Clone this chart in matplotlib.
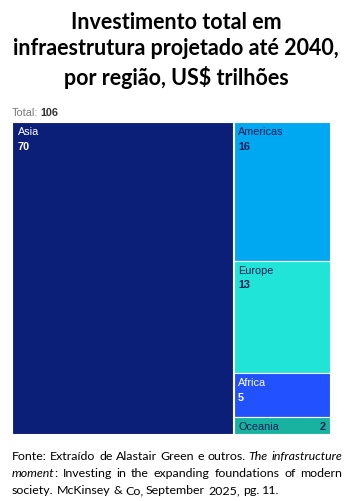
import numpy as np
import matplotlib.pyplot as plt

# dados (US$ trilhões)
regions = ['Asia', 'Americas', 'Europe', 'Africa', 'Oceania']
values = [70, 16, 13, 5, 2]
colors = ['#0b1f78', '#00a8f2', '#20e4d8', '#2251ff', '#17b3a0']
text_colors = ['white', '#0a1e5a', '#0a1e5a', 'white', '#0a1e5a']
total = sum(values)

title = 'Investimento total em\ninfraestrutura projetado até 2040,\npor região, US$ trilhões'
caption = [
    [('Fonte:', 'normal'), ('Extraído', 'normal'), ('de', 'normal'), ('Alastair', 'normal'),
     ('Green', 'normal'), ('e', 'normal'), ('outros.', 'normal'), ('The', 'italic'),
     ('infrastructure', 'italic')],
    [('moment', 'italic'), (':', 'normal', True), ('Investing', 'normal'), ('in', 'normal'),
     ('the', 'normal'), ('expanding', 'normal'), ('foundations', 'normal'), ('of', 'normal'),
     ('modern', 'normal')],
    [('society.', 'normal'), ('McKinsey', 'normal'), ('&', 'normal'), ('Co,', 'normal'),
     ('September', 'normal'), ('2025,', 'normal'), ('pg.', 'normal'), ('11.', 'normal')],
]

W, H = 352, 502
fig = plt.figure(figsize=(W / 100, H / 100), dpi=100)
lab_fs = 7.8
lab_font = 'Liberation Sans'

fig.text(0.5, 1 - 12 / H, title, ha='center', va='top', fontsize=15.5,
         fontweight='bold', family='Lato', linespacing=1.32, color='black')

# bloco esquerdo (Asia)
axL = fig.add_axes([12 / W, (H - 435) / H, 221 / W, 312 / H])
axL.bar(0, values[0], width=1, color=colors[0], edgecolor='white', linewidth=0.8)
axL.set_xlim(-0.5, 0.5)
axL.set_ylim(0, values[0])
axL.axis('off')
axL.annotate(regions[0], (0, 1), xycoords='axes fraction', xytext=(4, -3),
             textcoords='offset points', ha='left', va='top', fontsize=lab_fs,
             color=text_colors[0], family=lab_font)
axL.annotate(str(values[0]), (0, 1), xycoords='axes fraction', xytext=(4, -13.5),
             textcoords='offset points', ha='left', va='top', fontsize=lab_fs,
             fontweight='bold', color=text_colors[0], family=lab_font)

# coluna direita (demais regiões)
axR = fig.add_axes([234 / W, (H - 435) / H, 96 / W, 312 / H])
rest = values[1:]
bottoms = np.concatenate([[0], np.cumsum(rest)[:-1]])
axR.bar([0] * len(rest), rest, bottom=bottoms, width=1, color=colors[1:],
        edgecolor='white', linewidth=0.8)
axR.set_xlim(-0.5, 0.5)
axR.set_ylim(sum(rest), 0)
axR.axis('off')
for name, v, b, tc in zip(regions[1:], rest, bottoms, text_colors[1:]):
    if v >= 4:
        axR.annotate(name, (-0.5, b), xytext=(3, -3), textcoords='offset points',
                     ha='left', va='top', fontsize=lab_fs, color=tc, family=lab_font)
        axR.annotate(str(v), (-0.5, b), xytext=(3, -13.5), textcoords='offset points',
                     ha='left', va='top', fontsize=lab_fs, fontweight='bold', color=tc,
                     family=lab_font)
    else:
        axR.annotate(name, (-0.5, b + v / 2), xytext=(3, -0.5), textcoords='offset points',
                     ha='left', va='center', fontsize=lab_fs, color=tc, family=lab_font)
        axR.annotate(str(v), (0.5, b + v / 2), xytext=(-3, -0.5), textcoords='offset points',
                     ha='right', va='center', fontsize=lab_fs, fontweight='bold', color=tc,
                     family=lab_font)

# rótulo do total
t1 = fig.text(12 / W, 1 - 113 / H, 'Total:', ha='left', va='center', fontsize=lab_fs,
              color='#777777', family=lab_font)
fig.canvas.draw()
r = fig.canvas.get_renderer()
bb = t1.get_window_extent(r)
fig.text((bb.x1 + 2) / W, 1 - 113 / H, str(total), ha='left', va='center', fontsize=lab_fs,
         fontweight='bold', color='#333333', family=lab_font)

# legenda/fonte, justificada
x0, x1 = 12, 342
y_lines = [460, 477, 494]
for li, (line, y) in enumerate(zip(caption, y_lines)):
    pieces = []
    for item in line:
        word, style = item[0], item[1]
        t = fig.text(0, 1 - y / H, word, ha='left', va='baseline', fontsize=8.9,
                     style=style, family='Lato', color='black')
        w = t.get_window_extent(r).width
        pieces.append((t, w, len(item) > 2))
    nospace = sum(1 for p in pieces if p[2])
    gaps = len(pieces) - 1 - nospace
    total_w = sum(p[1] for p in pieces)
    if li < len(caption) - 1:
        gap = (x1 - x0 - total_w) / gaps
    else:
        gap = 3.0
    x = x0
    for i, (t, w, attach) in enumerate(pieces):
        if i > 0 and not attach:
            x += gap
        t.set_x(x / W)
        x += w

fig.savefig('out.png', dpi=100)
